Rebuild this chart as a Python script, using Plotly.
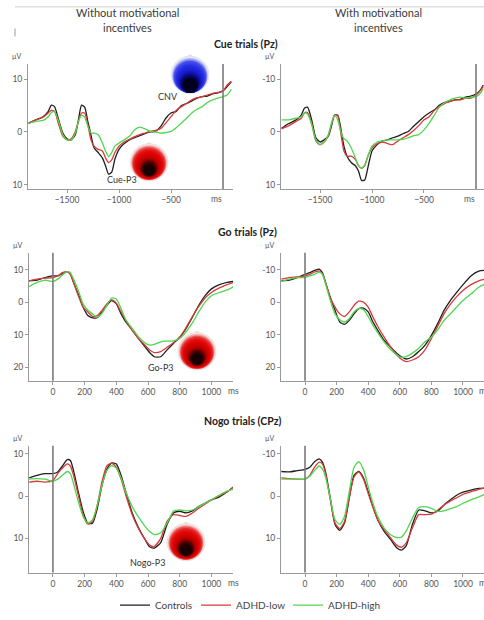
import plotly.graph_objects as go

W, H = 484, 620
def px(x): return x / W
def py(y): return 1 - y / H

# ---------------- DATA ----------------
groups = ["Controls", "ADHD-low", "ADHD-high"]
colors = ["#1e1e1e", "#d93a3a", "#4fd64f"]

cue_t = [-1870, -1800, -1730, -1680, -1650, -1620, -1580, -1540, -1500, -1460, -1420, -1390,
         -1360, -1330, -1300, -1270, -1240, -1200, -1160, -1130, -1100, -1070, -1040, -1000,
         -950, -900, -850, -800, -750, -700, -650, -600, -550, -500, -450, -400, -350, -300,
         -250, -200, -150, -100, -50, 0, 40, 80]

cue_left_controls = [-1.7, -2.3, -2.9, -3.9, -5.1, -4.8, -2.3, 0.2, 1.3, 1.5, 0.5, -2.3,
                     -5.1, -4.7, -2.0, 0.5, 3.0, 3.9, 4.9, 6.4, 8.0, 7.6, 5.2, 3.3,
                     2.2, 1.5, 1.1, 0.7, 0.3, 0.0, -0.1, -1.0, -2.6, -3.6, -3.9, -5.0, -5.4, -5.9,
                     -6.4, -6.7, -6.8, -7.2, -7.4, -7.8, -8.6, -9.5]
cue_left_low = [-1.6, -2.3, -2.8, -3.6, -4.1, -3.9, -1.4, 0.8, 1.5, 1.3, -0.1, -2.0,
                -3.6, -3.6, -1.4, 1.5, 2.7, 3.3, 3.6, 4.9, 5.8, 5.3, 3.9, 2.7,
                1.9, 1.4, 0.9, 0.5, 0.2, -0.1, -0.3, -0.6, -1.7, -2.9, -4.1, -4.8, -5.4, -6.1,
                -6.5, -6.7, -7.0, -7.3, -7.5, -7.8, -8.9, -9.6]
cue_left_high = [-1.6, -2.0, -2.2, -2.9, -3.7, -3.9, -2.0, 0.5, 1.5, 1.5, 0.2, -2.0,
                 -3.2, -2.8, -1.1, 0.2, 0.2, 0.5, 2.1, 3.6, 4.7, 3.9, 2.7, 2.1,
                 1.5, 0.8, -0.4, -0.9, -0.6, -0.1, 0.0, 0.2, 0.1, -0.1, -0.8, -1.7, -2.6, -3.6,
                 -4.3, -4.8, -5.6, -6.1, -6.4, -6.7, -7.0, -8.1]

cue_t2 = cue_t[:-1] + [70]
cue_right_controls = [-0.7, -1.6, -2.3, -3.2, -4.5, -4.7, -2.3, 1.1, 1.9, 1.5, 0.8, -1.1,
                      -3.2, -3.2, -0.7, 2.7, 4.6, 5.8, 6.4, 7.4, 9.2, 9.1, 6.8, 3.6,
                      2.4, 1.7, 1.5, 1.1, 0.8, 0.3, -0.1, -1.1, -2.0, -2.9, -3.6, -4.2, -5.1, -5.6,
                      -5.8, -6.1, -6.2, -6.6, -6.8, -7.2, -7.9, -8.9]
cue_right_low = [-0.6, -1.2, -2.0, -2.6, -3.6, -3.7, -1.7, 1.7, 2.4, 1.9, 0.7, -1.4,
                 -3.2, -3.1, 0.2, 3.6, 4.6, 4.6, 5.2, 6.4, 6.9, 6.4, 4.6, 3.0,
                 2.2, 1.9, 2.2, 2.4, 1.7, 1.1, 0.5, -0.3, -1.2, -2.3, -2.9, -4.1, -4.8, -5.4,
                 -5.8, -6.1, -6.1, -6.4, -6.4, -7.0, -7.8, -8.6]
cue_right_high = [-2.3, -2.3, -2.6, -2.9, -3.6, -3.4, -1.4, 1.5, 2.4, 1.9, 0.5, -1.7,
                  -3.2, -2.3, -0.1, 1.3, 1.7, 3.0, 4.9, 6.4, 6.8, 6.3, 4.6, 2.7,
                  1.9, 1.7, 1.5, 1.5, 1.5, 1.4, 1.1, 0.7, 0.5, -0.4, -1.7, -3.2, -4.8, -5.6,
                  -6.1, -6.4, -6.6, -6.4, -6.6, -6.7, -7.3, -8.2]

stim_t = [-150, -100, -50, 0, 30, 60, 90, 110, 130, 160, 190, 220, 250, 280, 310, 340, 370,
          400, 430, 460, 500, 540, 580, 610, 640, 680, 720, 760, 800, 840, 880, 920, 960,
          1000, 1050, 1100, 1140]

go_left_controls = [-6.6, -6.8, -7.6, -8.1, -8.1, -8.8, -9.4, -8.6, -6.1, -2.5, 1.5, 4.1, 4.8,
                    4.8, 3.0, 1.0, -0.5, 0.5, 3.6, 6.1, 8.6, 11.2, 13.7, 15.5, 16.8, 16.8, 14.7,
                    12.7, 10.9, 8.1, 4.6, 1.0, -2.0, -4.1, -5.4, -6.1, -6.4]
go_left_low = [-6.6, -7.1, -7.4, -7.6, -8.1, -9.1, -9.4, -8.6, -6.1, -2.0, 1.5, 3.0, 4.4,
               4.1, 2.5, 0.5, -0.7, 0.3, 3.0, 5.6, 8.6, 11.2, 13.2, 14.7, 15.5, 15.2, 13.9,
               12.5, 10.7, 7.8, 4.4, 1.3, -1.3, -3.0, -4.4, -5.4, -6.1]
go_left_high = [-4.8, -6.1, -6.8, -6.4, -7.1, -8.4, -9.4, -9.1, -7.1, -3.6, 0.5, 2.5, 3.6,
                4.6, 3.4, 1.0, -1.3, -1.0, 2.0, 5.4, 8.1, 10.7, 12.5, 13.2, 13.0, 12.2, 12.0,
                11.9, 11.2, 9.1, 6.4, 3.0, 0.0, -2.0, -3.0, -3.8, -4.8]

go_right_controls = [-6.6, -6.8, -7.6, -8.6, -9.1, -9.8, -10.2, -9.1, -6.1, -1.5, 2.5, 6.1, 6.8,
                     5.6, 3.6, 2.0, 1.8, 3.0, 6.1, 8.6, 11.7, 13.7, 15.7, 16.8, 17.5, 16.8, 15.2,
                     13.2, 10.2, 6.6, 2.5, -0.5, -3.0, -5.4, -8.1, -9.6, -9.8]
go_right_low = [-7.1, -7.6, -7.8, -8.1, -8.6, -9.3, -9.6, -8.8, -6.1, -1.3, 1.5, 3.6, 4.4,
                3.0, 1.0, -0.3, 0.0, 1.5, 4.6, 7.4, 10.7, 13.7, 16.2, 17.6, 18.3, 17.8, 16.8,
                14.7, 11.2, 7.4, 3.6, 0.7, -1.7, -3.6, -5.4, -6.6, -7.1]
go_right_high = [-6.4, -7.1, -7.6, -7.6, -8.1, -8.6, -9.3, -8.6, -5.6, -0.5, 3.6, 5.4, 6.1,
                 5.1, 3.0, 2.0, 2.3, 4.4, 7.1, 9.4, 12.2, 14.5, 16.2, 17.0, 16.8, 15.7, 14.2,
                 12.2, 10.7, 8.5, 5.6, 3.6, 1.5, -0.5, -2.5, -4.6, -5.6]

nogo_left_controls = [-4.3, -4.9, -5.3, -5.3, -5.7, -7.1, -8.6, -8.4, -6.0, -1.0, 3.6, 6.4, 6.4,
                      2.9, -2.6, -6.3, -7.8, -7.6, -4.9, -1.0, 4.0, 7.5, 10.2, 12.0, 12.3, 11.0,
                      6.7, 4.0, 3.6, 4.0, 3.5, 2.5, 1.7, 0.9, 0.2, -1.0, -2.2]
nogo_left_low = [-3.3, -3.5, -3.3, -3.7, -5.3, -6.6, -7.6, -7.1, -4.9, -0.2, 4.4, 6.6, 6.0,
                 2.1, -3.5, -7.1, -7.8, -6.8, -4.0, -0.2, 4.4, 7.7, 10.2, 11.6, 11.9, 10.0,
                 6.0, 4.4, 4.6, 4.8, 4.0, 2.9, 1.9, 0.9, -0.1, -1.0, -2.2]
nogo_left_high = [-4.0, -4.1, -4.0, -3.5, -4.0, -4.9, -5.8, -5.3, -2.9, 1.3, 4.8, 6.4, 5.6,
                  2.1, -2.6, -6.0, -7.2, -6.6, -4.3, -1.0, 2.5, 5.0, 7.1, 8.4, 9.1, 8.7,
                  6.4, 3.6, 3.3, 3.5, 3.3, 2.5, 1.7, 0.9, -0.2, -1.2, -1.6]

nogo_right_controls = [-5.8, -5.7, -6.0, -6.3, -6.8, -8.1, -8.8, -8.0, -5.7, 0.5, 6.7, 8.1, 6.4,
                       0.5, -4.9, -5.8, -4.3, -1.0, 2.5, 5.6, 8.3, 10.2, 12.2, 12.8, 11.8, 6.7,
                       3.3, 3.5, 4.0, 3.6, 2.1, 0.9, -0.2, -0.9, -1.4, -1.8, -1.9]
nogo_right_low = [-4.3, -4.1, -4.0, -4.0, -4.9, -6.8, -8.0, -7.6, -5.3, 0.9, 6.4, 7.7, 6.0,
                  0.4, -4.5, -5.7, -4.0, -0.6, 2.7, 5.6, 7.9, 9.8, 11.6, 12.1, 11.1, 7.5,
                  4.4, 4.4, 4.3, 3.3, 2.1, 1.2, 0.4, -0.4, -1.0, -1.6, -1.9]
nogo_right_high = [-4.0, -4.0, -4.0, -4.0, -4.7, -6.0, -7.1, -6.4, -4.5, 0.5, 5.6, 6.7, 4.8,
                   -1.0, -6.8, -8.1, -6.3, -2.2, 1.7, 4.8, 7.5, 9.1, 9.8, 9.7, 8.3, 5.2,
                   2.7, 2.5, 2.9, 3.6, 3.5, 3.0, 2.5, 1.7, 0.9, 0.2, -0.4]

cue_ticks = [-1500, -1000, -500]
stim_ticks = [0, 200, 400, 600, 800, 1000]
cue_y = [-10, 0, 10]
go_y = [-10, 0, 10, 20]
nogo_y = [-10, 0, 10]

# ---------------- FIGURE ----------------
panels = [
    ((28, 233), (65, 192), [-1875, 96], [10.8, -12.9], cue_t,
     [cue_left_controls, cue_left_low, cue_left_high], cue_ticks, cue_y, ["10", "0", "10"]),
    ((281, 484), (65, 192), [-1875, 77], [10.8, -12.9], cue_t2,
     [cue_right_controls, cue_right_low, cue_right_high], cue_ticks, cue_y, ["-10", "0", "10"]),
    ((29, 233), (257, 387), [-151, 1136], [24.2, -15.2], stim_t,
     [go_left_controls, go_left_low, go_left_high], stim_ticks, go_y, ["10", "0", "10", "20"]),
    ((281, 484), (257, 387), [-152, 1133], [24.2, -15.2], stim_t,
     [go_right_controls, go_right_low, go_right_high], stim_ticks, go_y, ["-10", "0", "10", "20"]),
    ((29, 233), (453, 582), [-151, 1136], [18.1, -11.9], stim_t,
     [nogo_left_controls, nogo_left_low, nogo_left_high], stim_ticks, nogo_y, ["10", "0", "10"]),
    ((281, 484), (453, 582), [-152, 1133], [18.1, -11.9], stim_t,
     [nogo_right_controls, nogo_right_low, nogo_right_high], stim_ticks, nogo_y, ["-10", "0", "10"]),
]

FONT = "Lato"
fig = go.Figure()
shapes = []
annotations = []
axis_col = "#9a9a9a"
tick_font = dict(family=FONT, size=8.5, color="#555555")
legend_ids = ["legend", "legend2", "legend3"]

for i, (xp, yp, xr, yr, t, series, xt, yt, ytt) in enumerate(panels):
    n = "" if i == 0 else str(i + 1)
    xa, ya = "x" + n, "y" + n
    for j, s in enumerate(series):
        fig.add_trace(go.Scatter(
            x=t, y=s, mode="lines", xaxis=xa, yaxis=ya, name=groups[j],
            legend=legend_ids[j], showlegend=(i == 0),
            line=dict(color=colors[j], width=1.3, shape="spline", smoothing=0.6),
            hoverinfo="skip"))
    fig.layout["xaxis" + n] = dict(
        domain=[px(xp[0]), px(xp[1])], range=xr, anchor=ya, showgrid=False, zeroline=False,
        showline=True, linecolor=axis_col, linewidth=1, ticks="outside", ticklen=3,
        tickcolor=axis_col, tickvals=xt, tickfont=tick_font, fixedrange=True,
        ticklabeloverflow="allow")
    fig.layout["yaxis" + n] = dict(
        domain=[py(yp[1]), py(yp[0])], range=yr, anchor=xa, showgrid=False, zeroline=False,
        showline=True, linecolor=axis_col, linewidth=1, ticks="outside", ticklen=3,
        tickcolor=axis_col, tickvals=yt, ticktext=ytt, tickfont=tick_font, fixedrange=True,
        ticklabeloverflow="allow")
    shapes.append(dict(type="line", xref=xa, yref=ya + " domain", x0=0, x1=0, y0=0, y1=1,
                       line=dict(color="#7a7a7a", width=1.6)))
    annotations.append(dict(text="µV", xref="paper", yref="paper", x=px(xp[0] - 18),
                            y=py(yp[0] - 2), xanchor="left", yanchor="bottom", showarrow=False,
                            font=dict(family=FONT, size=7, color="#555555")))
    if i < 2:
        annotations.append(dict(text="ms", xref=xa, yref="paper", x=-60, y=py(yp[1] + 3),
                                xanchor="center", yanchor="top", showarrow=False,
                                font=tick_font))
    else:
        annotations.append(dict(text="ms", xref=xa, yref="paper", x=1090, y=py(yp[1] + 3),
                                xanchor="left", yanchor="top", showarrow=False,
                                font=tick_font))

hdr = dict(family=FONT, size=11, color="#3a3a3a")
for txt, x, y in [("Without motivational", 127, 13), ("incentives", 127, 28),
                  ("With motivational", 378, 13), ("incentives", 378, 28)]:
    annotations.append(dict(text=txt, xref="paper", yref="paper", x=px(x), y=py(y),
                            xanchor="center", yanchor="middle", showarrow=False, font=hdr))
for txt, x, y in [("Cue trials (Pz)", 246, 45), ("Go trials (Pz)", 247, 236),
                  ("Nogo trials (CPz)", 242, 428)]:
    annotations.append(dict(text="<b>" + txt + "</b>", xref="paper", yref="paper", x=px(x),
                            y=py(y), xanchor="center", yanchor="middle", showarrow=False,
                            font=dict(family=FONT, size=10.5, color="#222222")))
for txt, x, y in [("CNV", 168, 98), ("Cue-P3", 122, 182), ("Go-P3", 161, 374),
                  ("Nogo-P3", 148, 572)]:
    annotations.append(dict(text=txt, xref="paper", yref="paper", x=px(x), y=py(y),
                            xanchor="center", yanchor="middle", showarrow=False,
                            font=dict(family=FONT, size=9, color="#333333")))

shapes.append(dict(type="line", xref="paper", yref="paper", x0=px(15), x1=px(484),
                   y0=py(7), y1=py(7), line=dict(color="#cfcfcf", width=1)))
shapes.append(dict(type="line", xref="paper", yref="paper", x0=px(15), x1=px(15),
                   y0=py(29), y1=py(37), line=dict(color="#999999", width=1)))

def mix(a, b, f):
    return tuple(int(round(a[k] + (b[k] - a[k]) * f)) for k in range(3))

def scalp(cx, cy, r, stops, drop, rmin):
    n = 16
    out = [dict(type="circle", xref="paper", yref="paper", x0=px(cx - r), x1=px(cx + r),
                y0=py(cy + r), y1=py(cy - r), fillcolor="rgb(238,238,238)",
                line=dict(color="rgba(190,190,190,0.6)", width=0.6))]
    out.append(dict(type="circle", xref="paper", yref="paper", x0=px(cx - 2), x1=px(cx + 2),
                    y0=py(cy - r + 1.5), y1=py(cy - r - 1.5), fillcolor="rgb(225,225,225)",
                    line=dict(width=0)))
    for k in range(n):
        f = k / (n - 1)
        rr = r * (0.98 - (0.98 - rmin) * f)
        yy = cy + drop * f
        seg = f * (len(stops) - 1)
        a = min(int(seg), len(stops) - 2)
        c = mix(stops[a], stops[a + 1], seg - a)
        out.append(dict(type="circle", xref="paper", yref="paper", x0=px(cx - rr),
                        x1=px(cx + rr), y0=py(yy + rr), y1=py(yy - rr),
                        fillcolor="rgb(%d,%d,%d)" % c, line=dict(width=0)))
    return out

red_stops = [(248, 225, 225), (232, 50, 50), (225, 10, 10), (215, 0, 0), (180, 0, 0),
             (90, 0, 0), (25, 0, 0)]
blue_stops = [(232, 232, 250), (70, 80, 235), (35, 45, 225), (25, 30, 210), (10, 10, 130),
              (0, 0, 30)]
shapes += scalp(190, 76, 19, blue_stops, 11, 0.38)
shapes += scalp(149, 165, 19, red_stops, 8, 0.3)
shapes += scalp(197, 357, 19, red_stops, 8, 0.3)
shapes += scalp(186, 551, 19, red_stops, 8, 0.3)

leg_font = dict(family=FONT, size=10, color="#444444")
leg_common = dict(orientation="h", yanchor="middle", y=py(615), xanchor="left",
                  font=leg_font, itemwidth=30, bgcolor="rgba(0,0,0,0)")
fig.update_layout(
    width=W, height=H, margin=dict(l=0, r=0, t=0, b=0),
    paper_bgcolor="white", plot_bgcolor="white",
    shapes=shapes, annotations=annotations,
    legend=dict(x=px(115), **leg_common),
    legend2=dict(x=px(196), **leg_common),
    legend3=dict(x=px(288), **leg_common),
)
page_fix = (
    "document.documentElement.style.margin='0';"
    "document.documentElement.style.overflow='hidden';"
    "document.body.style.margin='0';document.body.style.padding='0';"
    "document.body.style.overflow='hidden';"
    "var gd=document.getElementById('{plot_id}');"
    "gd.style.display='block';"
    "if(gd.parentElement){gd.parentElement.style.height='620px';"
    "gd.parentElement.style.overflow='hidden';}"
)
fig.write_html("out.html", post_script=page_fix, config={"displayModeBar": False})
